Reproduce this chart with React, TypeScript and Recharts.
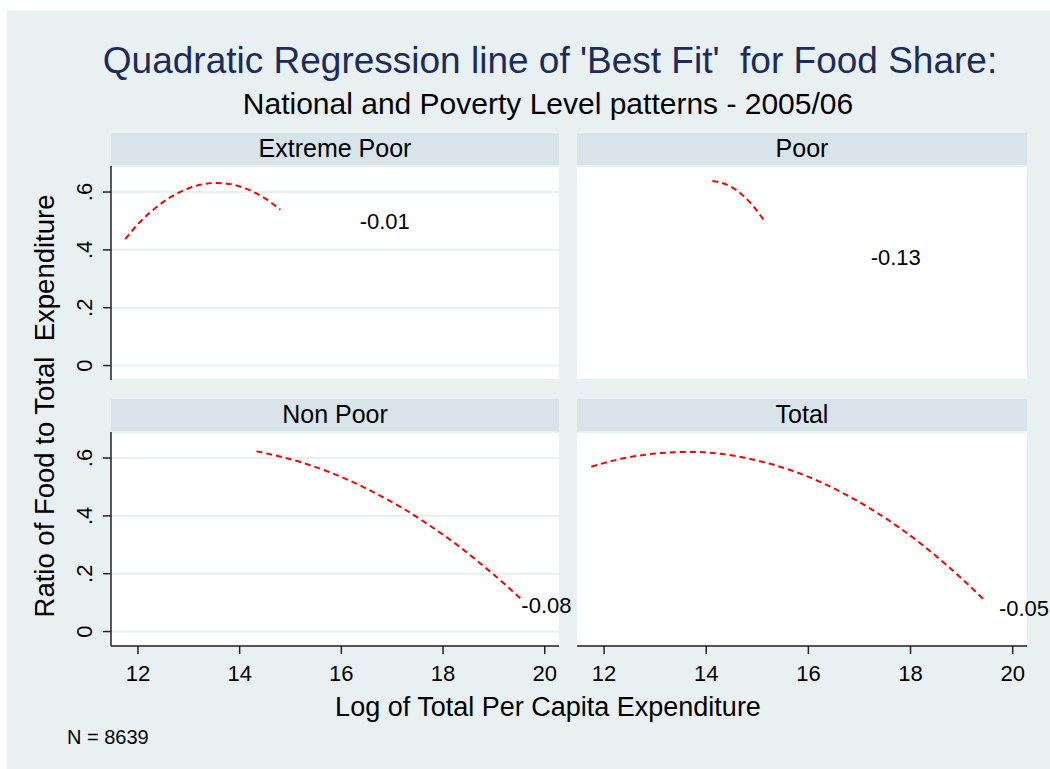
import { LineChart, Line, XAxis, YAxis, CartesianGrid, ReferenceDot } from "recharts";

const FONT = '"Liberation Sans", Arial, Helvetica, sans-serif';
const BG = "#E8F0F2";
const HEAD = "#D8E4E9";
const RED = "#FF0000";

// axes
const xTicks = [12, 14, 16, 18, 20];
const yTicks = [0, 0.2, 0.4, 0.6];
const xDomain = [11.47, 20.28];
const yDomain = [-0.05, 0.69];

// panel titles and the slope labels written in each panel
const panelTitles = ["Extreme Poor", "Poor", "Non Poor", "Total"];
const slopeLabels = ["-0.01", "-0.13", "-0.08", "-0.05"];
const slopeLabelX = [16.36, 17.22, 19.54, 19.73];
const slopeLabelY = [0.472, 0.348, 0.065, 0.055];

// fitted curves
const extremePoorX = [11.75, 12.0, 12.25, 12.5, 12.75, 13.0, 13.25, 13.5, 13.75, 14.0, 14.25, 14.5, 14.8];
const extremePoorY = [0.437, 0.489, 0.531, 0.566, 0.593, 0.613, 0.626, 0.631, 0.629, 0.619, 0.602, 0.578, 0.539];

const poorX = [14.12, 14.3, 14.5, 14.7, 14.9, 15.12];
const poorY = [0.638, 0.632, 0.617, 0.591, 0.555, 0.505];

const nonPoorX = [14.33, 14.75, 15.25, 15.75, 16.25, 16.75, 17.25, 17.75, 18.25, 18.75, 19.25, 19.53];
const nonPoorY = [0.623, 0.607, 0.583, 0.552, 0.515, 0.471, 0.422, 0.365, 0.303, 0.233, 0.158, 0.113];

const totalX = [11.75, 12.25, 12.75, 13.25, 13.75, 14.25, 14.75, 15.25, 15.75, 16.25, 16.75, 17.25, 17.75, 18.25, 18.75, 19.25, 19.45];
const totalY = [0.57, 0.594, 0.61, 0.619, 0.621, 0.615, 0.601, 0.58, 0.552, 0.516, 0.472, 0.421, 0.363, 0.297, 0.223, 0.142, 0.108];

const zip = (xs: number[], ys: number[]) => xs.map((x, i) => ({ x, y: ys[i] }));
const series = [
  zip(extremePoorX, extremePoorY),
  zip(poorX, poorY),
  zip(nonPoorX, nonPoorY),
  zip(totalX, totalY),
];

const fmtY = (v: number) => (v === 0 ? "0" : String(v).replace(/^0/, ""));

const YTick = (props: any) => {
  const { x, y, payload } = props;
  return (
    <text
      x={x}
      y={y}
      transform={`rotate(-90 ${x} ${y})`}
      textAnchor="middle"
      fontSize={22}
      fill="#000"
      fontFamily={FONT}
    >
      {fmtY(payload.value)}
    </text>
  );
};

// panel boxes: plot area left/top and size (page pixels)
const PLOT_H = 214;
const HEAD_H = 33;
const panels = [
  { left: 111, top: 166, w: 448, showY: true, showX: false },
  { left: 577, top: 166, w: 450, showY: false, showX: false },
  { left: 111, top: 432, w: 448, showY: true, showX: true },
  { left: 577, top: 432, w: 450, showY: false, showX: true },
];

function Panel({ i }: { i: number }) {
  const p = panels[i];
  const yw = p.showY ? 71 : 0;
  const xh = p.showX ? 50 : 0;
  return (
    <div style={{ position: "absolute", left: p.left - yw, top: p.top }}>
      <LineChart
        width={p.w + yw}
        height={PLOT_H + xh}
        data={series[i]}
        margin={{ top: 0, right: 0, bottom: 0, left: 0 }}
      >
        <CartesianGrid vertical={false} stroke={BG} strokeWidth={2} fill="#fff" fillOpacity={1} />
        <XAxis
          dataKey="x"
          type="number"
          domain={xDomain}
          ticks={xTicks}
          allowDataOverflow
          hide={!p.showX}
          height={xh}
          tickSize={8}
          tickMargin={11}
          axisLine={{ stroke: "#222", strokeWidth: 1.5 }}
          tickLine={{ stroke: "#222", strokeWidth: 1.5 }}
          tick={{ fontSize: 22, fill: "#000", fontFamily: FONT }}
        />
        <YAxis
          type="number"
          domain={yDomain}
          ticks={yTicks}
          allowDataOverflow
          width={yw}
          tickSize={8}
          tickMargin={11}
          tick={p.showY ? <YTick /> : false}
          axisLine={p.showY ? { stroke: "#222", strokeWidth: 1.5 } : false}
          tickLine={p.showY ? { stroke: "#222", strokeWidth: 1.5 } : false}
        />
        <Line
          type="monotone"
          dataKey="y"
          stroke={RED}
          strokeWidth={2}
          strokeDasharray="6 4"
          dot={false}
          activeDot={false}
          isAnimationActive={false}
        />
        <ReferenceDot
          x={slopeLabelX[i]}
          y={slopeLabelY[i]}
          r={0}
          shape={(s: any) => (
            <text x={s.cx} y={s.cy} fontSize={22} fill="#000" fontFamily={FONT}>
              {slopeLabels[i]}
            </text>
          )}
        />
      </LineChart>
    </div>
  );
}

export default function App() {
  return (
    <div
      style={{
        position: "absolute",
        left: 0,
        top: 0,
        width: 1050,
        height: 769,
        background: "#fff",
        fontFamily: FONT,
        overflow: "hidden",
      }}
    >
      <style>{"svg{overflow:visible}"}</style>
      <svg width={1050} height={769} style={{ position: "absolute", left: 0, top: 0 }}>
        <rect x={7} y={11} width={1043} height={758} fill={BG} />
        {panels.map((p, i) => (
          <g key={i}>
            <rect x={p.left} y={p.top - HEAD_H} width={p.w} height={HEAD_H} fill={HEAD} />
            <text
              x={p.left + p.w / 2}
              y={p.top - 9}
              textAnchor="middle"
              fontSize={25}
              fill="#000"
              fontFamily={FONT}
            >
              {panelTitles[i]}
            </text>
          </g>
        ))}
        <text x={550} y={73} textAnchor="middle" fontSize={37} fill="#1C2B5A" fontFamily={FONT}>
          Quadratic Regression line of 'Best Fit'{"\u00a0\u00a0"}for Food Share:
        </text>
        <text x={548} y={114} textAnchor="middle" fontSize={30} fill="#000" fontFamily={FONT}>
          National and Poverty Level patterns - 2005/06
        </text>
        <text x={548} y={716} textAnchor="middle" fontSize={27} fill="#000" fontFamily={FONT}>
          Log of Total Per Capita Expenditure
        </text>
        <text
          x={54}
          y={406}
          transform="rotate(-90 54 406)"
          textAnchor="middle"
          fontSize={27.5}
          fill="#000"
          fontFamily={FONT}
        >
          Ratio of Food to Total{"\u00a0\u00a0"}Expenditure
        </text>
        <text x={67} y={744} fontSize={20} fill="#000" fontFamily={FONT}>
          N = 8639
        </text>
      </svg>
      {panels.map((_, i) => (
        <Panel key={i} i={i} />
      ))}
    </div>
  );
}
